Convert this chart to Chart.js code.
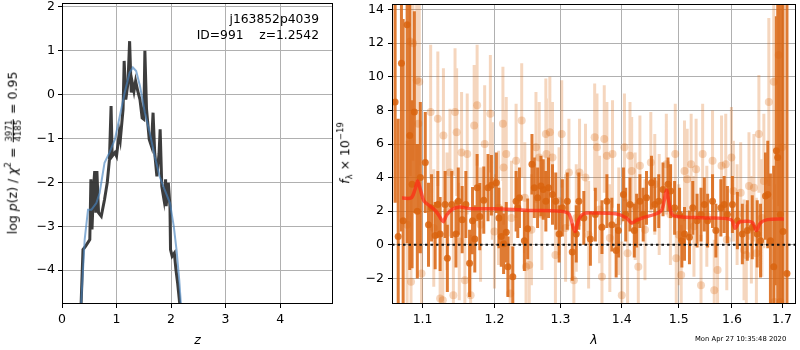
<!DOCTYPE html>
<html>
<head>
<meta charset="utf-8">
<script src="https://cdn.jsdelivr.net/npm/chart.js@4.4.1/dist/chart.umd.min.js"></script>
<style>
  body { margin: 0; background: #fff; }
  #wrap { position: relative; width: 800px; height: 350px; font-family: "DejaVu Sans", sans-serif; color: #000; }
  .box { position: absolute; top: 0; height: 350px; }
  .lab { position: absolute; white-space: pre; font-size: 12.3px; line-height: 1; }
  .ylab { position: absolute; white-space: nowrap; font-size: 12.5px; line-height: 1;
          transform: translate(-50%, -50%) rotate(-90deg); }
  .frac { display: inline-block; vertical-align: middle; text-align: center; font-size: 8.5px; line-height: 1; margin: 0 1px; }
  .frac span { display: block; padding: 0 1px; }
  .frac .num { border-bottom: 0.8px solid #000; }
  sup { font-size: 8.5px; vertical-align: 6px; }
  sub { font-size: 8.5px; vertical-align: -3px; }
</style>
</head>
<body>
<div id="wrap">
  <div class="box" style="left:0;width:340px"><canvas id="pz"></canvas></div>
  <div class="box" style="left:340px;width:460px"><canvas id="spec"></canvas></div>
  <div class="lab" style="right:481px;top:13px">j163852p4039</div>
  <div class="lab" style="right:481px;top:29px">ID=991    z=1.2542</div>
  <div class="ylab" style="left:13px;top:153px">log <i>p</i>(z) / <i>χ</i><sup>2</sup> = <span class="frac"><span class="num">3971</span><span class="den">4185</span></span> = 0.95</div>
  <div class="ylab" style="left:345px;top:153px"><i>f</i><sub>λ</sub> × 10<sup>−19</sup></div>
  <div class="lab" style="left:695px;top:336px;font-size:6.8px">Mon Apr 27 10:35:48 2020</div>
</div>
<script>
// ── p(z) panel ──
const zChi = [0.33, 0.385, 0.434, 0.51, 0.53, 0.55, 0.58, 0.60, 0.62, 0.64, 0.67, 0.72, 0.78, 0.83, 0.87, 0.90, 0.92, 0.97, 1.00, 1.05,
              1.07, 1.12, 1.14, 1.17, 1.21, 1.24, 1.27, 1.29, 1.32, 1.35, 1.39, 1.43, 1.47, 1.50, 1.52, 1.55, 1.60, 1.64, 1.67, 1.70,
              1.74, 1.78, 1.80, 1.83, 1.87, 1.90, 1.91, 1.95, 1.98, 1.99, 2.02, 2.06, 2.09, 2.12, 2.16, 2.18];
const logpChi = [-5.5, -3.53, -3.45, -3.30, -1.93, -3.07, -2.08, -1.74, -2.69, -1.74, -2.69, -2.77, -2.39, -2.0, -1.48, -0.26, -1.40, -1.32, -1.40, -0.87,
                 -1.02, -0.33, 0.77, -0.11, 0.27, 1.22, 0.05, 0.27, 0.08, 0.31, 0.08, -0.11, -0.53, -0.56, 1.0, -0.33, -1.02, -1.17, -0.41, -1.32,
                 -1.86, -1.34, -0.79, -2.09, -2.39, -1.93, -2.54, -2.01, -2.54, -3.53, -3.68, -3.61, -3.99, -4.29, -4.77, -5.5];
const zPrior = [0.33, 0.355, 0.416, 0.477, 0.54, 0.63, 0.69, 0.78, 0.87, 0.97, 1.06, 1.15, 1.24, 1.30, 1.36, 1.43, 1.52, 1.61, 1.70, 1.79,
                1.88, 1.98, 2.05, 2.10, 2.15, 2.18, 2.20];
const logpPrior = [-6.0, -4.67, -3.30, -2.62, -2.62, -2.47, -2.24, -1.55, -1.32, -1.02, -0.49, 0.05, 0.50, 0.62, 0.54, 0.20, -0.41, -0.87, -1.40, -1.86,
                   -2.16, -2.47, -3.0, -3.53, -4.22, -4.77, -5.5];
const zTicks = [0, 1, 2, 3, 4];

// ── spectrum panel ──
const lamA = [1.064, 1.068, 1.0722, 1.0744, 1.0796, 1.0830, 1.0861, 1.0891, 1.093, 1.097, 1.1036, 1.1079, 1.112, 1.1169, 1.1205, 1.1236, 1.1304, 1.1335,
              1.1395, 1.1454, 1.1486, 1.154, 1.1592, 1.1644, 1.1686, 1.1718, 1.1751, 1.1789, 1.1846, 1.1907, 1.1956, 1.2028, 1.2066, 1.2100, 1.2134,
              1.2173, 1.2197, 1.2270, 1.2319, 1.2344, 1.2369, 1.2443, 1.2493, 1.2558, 1.2594, 1.2644, 1.2695, 1.2731, 1.2771, 1.2812, 1.2874, 1.2925,
              1.2977, 1.3029, 1.3107, 1.3186, 1.3250, 1.3292, 1.3372, 1.3479, 1.3560, 1.3669, 1.3751, 1.3834, 1.3906, 1.3945, 1.4029, 1.4068, 1.4141,
              1.4215, 1.4255, 1.4312, 1.4369, 1.4427, 1.4514, 1.4572, 1.4642, 1.4718, 1.4807, 1.4854, 1.4926, 1.5016, 1.5058, 1.5106, 1.5197, 1.5258,
              1.5338, 1.5411, 1.5473, 1.5535, 1.5628, 1.5691, 1.5786, 1.5849, 1.5912, 1.6008, 1.6105, 1.6202, 1.6300, 1.6398, 1.6497, 1.6563, 1.6663,
              1.6709, 1.6763, 1.6830, 1.6884, 1.6911, 1.6965, 1.7020, 1.7102];
const fluxA = [8.5, 0.5, 10.8, 1.44, 13.1, 6.5, 3.6, 7.9, 2.0, 4.0, 4.9, 1.2, 2.2, 0.55, 2.4, 0.65, 2.4, -0.8,
               2.4, 0.65, 2.6, 1.5, 2.4, -1.1, 1.44, 0.35, 3.4, 1.68, 2.66, 3.4, 3.55, 3.7, 1.6, 0.5, 0.06,
               0.75, -1.3, -1.9, 2.6, 2.2, 2.8, 0.25, 0.95, 4.8, 3.4, 2.8, 3.5, 3.3, 2.6, 3.4, 3.0, 2.6,
               0.65, 2.2, 2.6, -0.43, 0.65, 2.6, 1.6, 0.35, 1.8, 1.05, 2.6, 1.2, -0.34, 0.85, 3.0, 1.8, 2.4,
               0.85, 1.44, 2.6, 1.8, 2.8, 3.7, 2.4, 2.6, 3.3, 3.6, 3.2, 2.2, 1.8, 0.25, 0.65, 0.45, 2.2,
               1.44, 1.8, 2.4, 1.44, 2.6, 0.85, 2.2, 2.4, 1.8, 2.4, 1.44, 0.65, 0.85, 1.05, 0.65, 0.25, 2.9,
               3.0, 0.25, -1.3, 5.6, 5.2, 1.8, 0.8, -1.7];
const errA = [6.0, 7.0, 10.0, 12.0, 13.0, 8.0, 5.0, 6.0, 4.0, 4.5, 3.0, 2.5, 2.0, 2.0, 2.0, 2.2, 2.0, 2.0,
              2.0, 2.0, 2.0, 2.0, 2.0, 2.0, 2.0, 2.0, 2.0, 2.0, 2.0, 2.0, 1.8, 1.8, 1.8, 1.8, 1.8,
              1.8, 1.8, 1.8, 1.8, 1.8, 1.8, 1.8, 1.8, 1.8, 1.8, 1.8, 1.8, 1.8, 1.8, 1.8, 1.8, 1.7,
              1.7, 1.7, 1.7, 1.7, 1.7, 1.7, 1.6, 1.6, 1.6, 1.6, 1.6, 1.6, 1.6, 1.6, 1.6, 1.6, 1.6,
              1.6, 1.6, 1.6, 1.6, 1.6, 1.6, 1.6, 1.6, 1.6, 1.6, 1.6, 1.6, 1.6, 1.6, 1.6, 1.6, 1.6,
              1.6, 1.6, 1.6, 1.6, 1.6, 1.6, 1.7, 1.7, 1.7, 1.7, 1.7, 1.8, 1.8, 1.9, 2.0, 2.2, 2.6,
              3.2, 4.0, 6.0, 8.0, 10.0, 13.0, 15.0, 16.0];

const lamB = [1.0796, 1.0838, 1.0847, 1.0873, 1.0922, 1.0944, 1.0956, 1.0986, 1.1108, 1.1205, 1.1236, 1.1273, 1.1281, 1.1371, 1.1418, 1.1441,
              1.1463, 1.1532, 1.1578, 1.1611, 1.1659, 1.1709, 1.1751, 1.1859, 1.1941, 1.1970, 1.2124, 1.2134, 1.2173, 1.2231, 1.2319, 1.2403,
              1.2468, 1.2517, 1.2619, 1.2669, 1.2771, 1.2780, 1.2833, 1.2874, 1.2977, 1.3019, 1.3133, 1.3212, 1.3303, 1.3399, 1.3549, 1.3587,
              1.3669, 1.3707, 1.3751, 1.3845, 1.4001, 1.4046, 1.4141, 1.4170, 1.4284, 1.4312, 1.4502, 1.4572, 1.4777, 1.4938, 1.4956, 1.5046,
              1.5106, 1.5155, 1.5228, 1.5320, 1.5411, 1.5442, 1.5628, 1.5660, 1.5723, 1.5799, 1.5880, 1.5989, 1.6027, 1.6170, 1.6235, 1.6333,
              1.6431, 1.6530, 1.6630, 1.6730, 1.6830, 1.6844, 1.6931, 1.6965, 1.7000,
              1.1150, 1.1330, 1.1500, 1.1800, 1.2000, 1.2060, 1.2250, 1.2450, 1.2550, 1.2710, 1.2920, 1.3080, 1.3250, 1.3450, 1.3630, 1.3800,
              1.3950, 1.4100, 1.4230, 1.4400, 1.4650, 1.4850, 1.5000, 1.5280, 1.5520, 1.5900, 1.6100, 1.6280, 1.6380, 1.6480, 1.6590];
const fluxB = [1.2, 12.1, -2.2, 12.0, 9.8, 7.2, 9.7, -1.7, 7.9, 7.5, -3.2, -3.3, 6.5, 4.3, -3.0, 7.9,
               6.7, 5.5, -2.1, 5.4, -3.0, 7.1, 8.3, 6.0, 7.8, 3.8, 7.2, 4.6, 5.4, -2.9, 5.0, 7.4,
               -1.3, -1.2, 5.8, 5.2, 6.6, 5.4, 6.7, 5.2, 2.6, 6.6, 4.3, -2.1, 4.3, 4.0, 6.4, 5.8,
               -1.9, 6.3, 5.3, 5.4, -3.0, 5.8, 5.3, 4.4, -1.3, 4.7, 4.9, 3.6, 4.8, 5.4, -0.8, -1.8,
               4.4, 3.9, 4.8, 4.5, -2.4, 5.4, 5.0, -2.7, -1.5, 4.7, 4.8, 5.2, 3.2, 3.1, -0.3, 3.5,
               3.4, 6.6, 3.8, 8.5, 9.7, -3.4, 11.3, -3.4, 5.8,
               1.0, 2.0, 0.2, 1.2, 0.8, 2.2, 1.6, 2.8, 0.9, 1.8, -0.6, 1.0, 1.6, 0.6, 2.1, 0.4,
               1.4, -0.5, 2.3, 0.9, 2.4, 1.8, 0.6, 1.1, 1.7, 0.3, 1.8, -0.6, 0.9, -0.5, 1.6];
const errB = [5.0, 8.0, 6.0, 7.0, 6.0, 5.0, 5.0, 4.5, 4.0, 4.0, 4.0, 4.0, 4.0, 3.8, 3.8, 3.8,
              3.8, 3.6, 3.6, 3.6, 3.6, 3.6, 3.6, 3.5, 3.5, 3.5, 3.4, 3.4, 3.4, 3.4, 3.4, 3.4,
              3.3, 3.3, 3.3, 3.3, 3.3, 3.3, 3.3, 3.3, 3.2, 3.2, 3.2, 3.2, 3.2, 3.2, 3.2, 3.2,
              3.2, 3.2, 3.2, 3.2, 3.2, 3.2, 3.2, 3.2, 3.0, 3.0, 3.0, 3.0, 3.0, 3.0, 3.0, 3.0,
              3.0, 3.0, 3.0, 3.0, 3.0, 3.0, 3.0, 3.0, 3.0, 3.0, 3.0, 3.0, 3.0, 3.0, 3.0, 3.2,
              3.2, 3.5, 4.0, 5.0, 7.0, 7.0, 9.0, 10.0, 10.0,
              3.5, 3.5, 3.5, 3.4, 3.4, 3.4, 3.4, 3.3, 3.3, 3.3, 3.2, 3.2, 3.2, 3.2, 3.2, 3.2,
              3.2, 3.2, 3.2, 3.0, 3.0, 3.0, 3.0, 3.0, 3.0, 3.0, 3.0, 3.0, 3.2, 3.3, 3.5];

const lamModel = [1.073, 1.085, 1.090, 1.0934, 1.097, 1.102, 1.110, 1.118, 1.124, 1.1278, 1.133, 1.140, 1.150, 1.165, 1.200, 1.250, 1.300, 1.313,
                  1.3229, 1.329, 1.337, 1.355, 1.390, 1.408, 1.417, 1.425, 1.440, 1.460, 1.470, 1.478, 1.482, 1.488, 1.500, 1.550, 1.598, 1.6063,
                  1.614, 1.632, 1.641, 1.648, 1.656, 1.670, 1.7037];
const fluxModel = [2.78, 2.8, 3.3, 3.8, 3.3, 2.6, 2.3, 2.0, 1.6, 1.38, 1.8, 2.1, 2.25, 2.15, 2.15, 2.05, 2.0, 1.85,
                   0.8, 1.5, 1.85, 1.9, 1.85, 1.6, 1.3, 1.45, 1.65, 1.85, 2.1, 3.25, 2.6, 1.8, 1.67, 1.6, 1.5, 0.98,
                   1.35, 1.4, 1.3, 0.85, 1.3, 1.5, 1.54];
const lamTicks = [1.1, 1.2, 1.3, 1.4, 1.5, 1.6, 1.7];

const FONT = { family: 'DejaVu Sans', size: 12.5 };
const GRID = '#b0b0b0';
const DARK = 'rgba(217,100,15,0.85)';
const LIGHT = 'rgba(217,95,2,0.26)';

const minus = v => String(v).replace('-', '\u2212');

// error bars as broken line segments
function errSegments(lam, f, e) {
    const out = [];
    lam.forEach((x, i) => {
        out.push({ x, y: f[i] - e[i] }, { x, y: f[i] + e[i] }, { x, y: null });
    });
    return out;
}
const pts = (xs, ys) => xs.map((x, i) => ({ x, y: ys[i] }));

const frame = {
    id: 'frame',
    afterDraw(chart) {
        const { ctx, chartArea: a } = chart;
        ctx.save();
        ctx.strokeStyle = '#000';
        ctx.lineWidth = 1;
        ctx.strokeRect(Math.round(a.left) + 0.5, Math.round(a.top) + 0.5,
            Math.round(a.right - a.left) - 1, Math.round(a.bottom - a.top) - 1);
        ctx.restore();
    }
};

// fixed box sizes so the plot area lands where the reference has it
const fitX = s => { s.height = 46; s.paddingLeft = 0; s.paddingRight = 0; };
const fitY = w => s => { s.width = w; s.paddingTop = 0; s.paddingBottom = 0; };

function axis(extra) {
    return Object.assign({
        grid: { color: GRID, lineWidth: 1, tickColor: '#000', tickLength: 4, drawTicks: true },
        border: { display: false },
    }, extra);
}

new Chart(document.getElementById('pz'), {
    type: 'scatter',
    data: {
        datasets: [{
            data: pts(zPrior, logpPrior),
            showLine: true, pointRadius: 0, borderWidth: 2,
            borderColor: 'rgba(70,130,190,0.65)', order: 1
        }, {
            data: pts(zChi, logpChi),
            showLine: true, pointRadius: 0, borderWidth: 3,
            borderColor: 'rgba(45,45,45,0.92)', order: 2
        }]
    },
    options: {
        responsive: true, maintainAspectRatio: false, animation: false,
        layout: { padding: { top: 3, right: 7, left: 0, bottom: 0 } },
        plugins: { legend: { display: false }, tooltip: { enabled: false } },
        scales: {
            x: axis({
                type: 'linear', min: 0, max: 4.97,
                afterFit: fitX,
                afterBuildTicks: s => { s.ticks = zTicks.map(v => ({ value: v })); },
                ticks: { color: '#000', font: FONT, padding: 4, maxRotation: 0, callback: v => minus(v) },
                title: { display: true, text: 'z', color: '#000', font: { family: 'DejaVu Sans', size: 12.5, style: 'italic' }, padding: { top: 0, bottom: 2 } }
            }),
            y: axis({
                type: 'linear', min: -4.77, max: 2.09,
                afterFit: fitY(62),
                ticks: { color: '#000', font: FONT, padding: 3, stepSize: 1, includeBounds: false, callback: v => minus(v) }
            })
        }
    },
    plugins: [frame]
});

new Chart(document.getElementById('spec'), {
    type: 'scatter',
    data: {
        datasets: [{
            data: [{ x: 1.06, y: 0 }, { x: 1.729, y: 0 }],
            showLine: true, pointRadius: 0, borderWidth: 2, borderColor: '#111',
            borderDash: [2.5, 3], order: 1
        }, {
            data: pts(lamModel, fluxModel),
            showLine: true, pointRadius: 0, borderWidth: 3.5, tension: 0.3,
            borderColor: 'rgba(255,40,20,0.7)', order: 2
        }, {
            data: pts(lamA, fluxA),
            pointRadius: 3.5, pointBackgroundColor: DARK, pointBorderWidth: 0, order: 3
        }, {
            data: errSegments(lamA, fluxA, errA),
            showLine: true, pointRadius: 0, borderWidth: 3, borderColor: DARK, spanGaps: false, order: 4
        }, {
            data: pts(lamB, fluxB),
            pointRadius: 4, pointBackgroundColor: LIGHT, pointBorderWidth: 0, order: 5
        }, {
            data: errSegments(lamB, fluxB, errB),
            showLine: true, pointRadius: 0, borderWidth: 3, borderColor: LIGHT, spanGaps: false, order: 6
        }]
    },
    options: {
        responsive: true, maintainAspectRatio: false, animation: false,
        layout: { padding: { top: 3, right: 1, left: 0, bottom: 0 } },
        plugins: { legend: { display: false }, tooltip: { enabled: false } },
        scales: {
            x: axis({
                type: 'logarithmic', min: 1.06, max: 1.729,
                afterFit: fitX,
                afterBuildTicks: s => { s.ticks = lamTicks.map(v => ({ value: v })); },
                ticks: { color: '#000', font: FONT, padding: 4, autoSkip: false, maxRotation: 0, callback: v => Number(v).toFixed(1) },
                title: { display: true, text: 'λ', color: '#000', font: { family: 'DejaVu Sans', size: 12.5, style: 'italic' }, padding: { top: 0, bottom: 2 } }
            }),
            y: axis({
                type: 'linear', min: -3.52, max: 14.33,
                afterFit: fitY(52),
                ticks: { color: '#000', font: FONT, padding: 4, stepSize: 2, includeBounds: false, callback: v => minus(v) }
            })
        }
    },
    plugins: [frame]
});
</script>
</body>
</html>
